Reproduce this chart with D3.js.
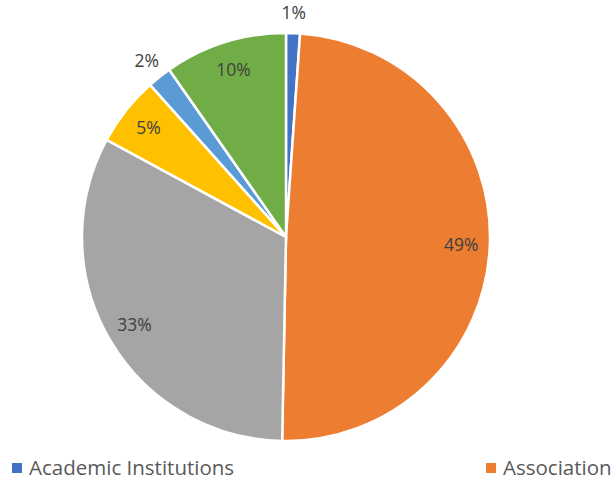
<!DOCTYPE html>
<html lang="en">
<head>
    <meta charset="UTF-8">
    <style>
        body { margin: 0; background: #fff; }
        .arc path { stroke: #fff; stroke-width: 2.5px; }
        .arc text {
            font: 17.5px "Open Sans", "Noto Sans", sans-serif;
            fill: #404040;
            text-anchor: middle;
        }
        .legend text {
            font: 20.5px "Open Sans", "Noto Sans", sans-serif;
            fill: #595959;
        }
    </style>
    <script src="https://d3js.org/d3.v7.min.js"></script>
    <title>Pie</title>
</head>
<body>
    <svg width="614" height="483"></svg>

    <script>
        // data (share of total, %)
        var categories = ["Academic Institutions", "Association", "Category 3", "Category 4", "Category 5", "Category 6"];
        var values = [1.1, 49.2, 32.6, 5.5, 1.9, 9.7];
        var labels = ["1%", "49%", "33%", "5%", "2%", "10%"];
        var colors = ["#4472C4", "#ED7D31", "#A5A5A5", "#FFC000", "#5B9BD5", "#70AD47"];
        // only the first two legend entries fit in the picture
        var legendShown = ["Academic Institutions", "Association"];

        var svg = d3.select("svg"),
            cx = 286,
            cy = 237,
            radius = 204;

        var g = svg.append("g")
                   .attr("transform", "translate(" + cx + "," + cy + ")");

        var color = d3.scaleOrdinal().domain(categories).range(colors);

        var pie = d3.pie().sort(null).value(function(d) { return d.value; });

        var data = categories.map(function(c, i) {
            return { name: c, value: values[i], label: labels[i] };
        });

        var arc = d3.arc().outerRadius(radius).innerRadius(0);

        // inside labels and outside labels (for the thin slices)
        var inside = d3.arc().outerRadius(radius * 0.86).innerRadius(radius * 0.86);
        var outside = d3.arc().outerRadius(radius * 1.1).innerRadius(radius * 1.1);

        var arcs = g.selectAll(".arc")
                    .data(pie(data))
                    .enter().append("g")
                    .attr("class", "arc");

        arcs.append("path")
            .attr("d", arc)
            .attr("fill", function(d) { return color(d.data.name); });

        arcs.append("text")
            .attr("transform", function(d) {
                var a = d.data.value < 3 ? outside : inside;
                return "translate(" + a.centroid(d) + ")";
            })
            .attr("dy", ".35em")
            .text(function(d) { return d.data.label; });

        // legend
        var legendX = d3.scalePoint().domain(legendShown).range([12, 486]);

        var legend = svg.append("g")
                        .attr("class", "legend")
                        .selectAll("g")
                        .data(legendShown)
                        .enter().append("g")
                        .attr("transform", function(d) { return "translate(" + legendX(d) + ",468)"; });

        legend.append("rect")
              .attr("y", -5)
              .attr("width", 10)
              .attr("height", 10)
              .style("fill", function(d) { return color(d); });

        legend.append("text")
              .attr("x", 17)
              .attr("dy", ".35em")
              .text(function(d) { return d; });
    </script>
</body>
</html>
